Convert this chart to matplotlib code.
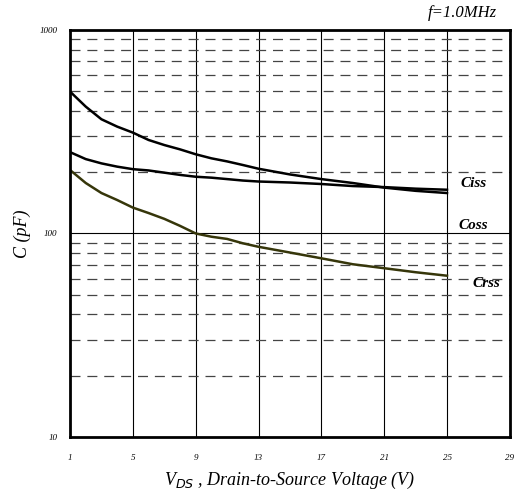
import numpy as np
import matplotlib
matplotlib.use("Agg")
from matplotlib import pyplot as plt

# Capacitance vs drain-source voltage
vds = [1, 2, 3, 4, 5, 6, 7, 8, 9, 10, 11, 12, 13, 15, 17, 19, 21, 23, 25]
ciss = [498, 420, 364, 335, 313, 288, 272, 259, 245, 234, 226, 217, 208,
        195, 185, 177, 168, 162, 158]
coss = [251, 232, 221, 213, 207, 204, 199, 194, 190, 188, 185, 182, 180,
        178, 175, 171, 169, 166, 164]
crss = [205, 177, 158, 146, 134, 126, 118, 109, 100, 96.4, 94, 89.5, 86,
        80.6, 75.5, 70.6, 67.5, 64.5, 62]

xticks = [1, 5, 9, 13, 17, 21, 25, 29]
yticks = [10, 100, 1000]

plt.rcParams['font.family'] = ['Liberation Serif', 'DejaVu Serif']

fig = plt.figure(figsize=(5.15, 4.91), dpi=100)
ax = fig.add_axes([0.136, 0.110, 0.854, 0.829])

ax.set_yscale('log')
ax.set_xlim(1, 29)
ax.set_ylim(10, 1000)

# grid: solid verticals and decade line, dashed minor horizontals
for x in xticks[1:-1]:
    ax.axvline(x, color='black', lw=0.8, zorder=1)
ax.axhline(100, color='black', lw=0.8, zorder=1)
for dec in (10, 100):
    for m in range(2, 10):
        ax.axhline(dec * m, color='#444444', lw=0.9, ls=(0, (8, 5.5)), zorder=1)

ax.plot(vds, ciss, color='black', lw=1.8, zorder=3)
ax.plot(vds, coss, color='black', lw=1.8, zorder=3)
ax.plot(vds, crss, color='#36360a', lw=1.8, zorder=3)

lbl = dict(fontsize=11, fontweight='bold', fontstyle='italic',
           ha='center', va='center')
ax.text(26.7, 177, 'Ciss', **lbl)
ax.text(26.7, 110, 'Coss', **lbl)
ax.text(27.5, 56.5, 'Crss', **lbl)

ax.set_xticks(xticks)
ax.set_xticklabels([str(v) for v in xticks], fontstyle='italic', fontsize=6.5)
ax.set_yticks(yticks)
ax.set_yticklabels([str(v) for v in yticks], fontstyle='italic', fontsize=6.5)
ax.yaxis.set_minor_locator(matplotlib.ticker.NullLocator())
ax.tick_params(length=0, pad=12)
ax.tick_params(axis='y', pad=9)

for s in ax.spines.values():
    s.set_linewidth(2)
    s.set_zorder(4)

ax.set_ylabel('C (pF)', fontstyle='italic', fontsize=13, labelpad=6)
ax.set_xlabel(r'V$_{DS}$ , Drain-to-Source Voltage (V)', fontstyle='italic',
              fontsize=13, labelpad=6)
fig.text(0.965, 0.973, 'f=1.0MHz', fontstyle='italic', fontsize=12,
         ha='right', va='center')

fig.savefig('out.png', dpi=100)
